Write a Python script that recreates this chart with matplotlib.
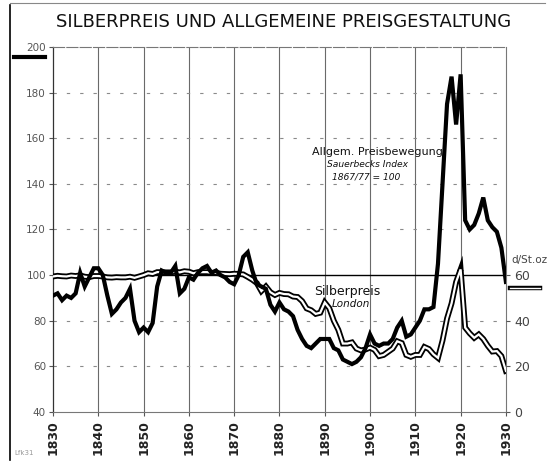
import numpy as np
import matplotlib.pyplot as plt
from matplotlib.lines import Line2D

# Jahre
years = list(range(1830, 1931))

# Allgemeine Preisbewegung (Sauerbecks Index, 1867/77 = 100)
sauerbeck = [
    91, 92, 89, 91, 90, 92, 101, 95, 99, 103,     # 1830-1839
    103, 100, 91, 83, 85, 88, 90, 94, 80, 75,     # 1840-1849
    77, 75, 79, 95, 102, 101, 101, 104, 92, 94,   # 1850-1859
    99, 98, 101, 103, 104, 101, 102, 100, 99, 97, # 1860-1869
    96, 100, 108, 110, 102, 96, 95, 94, 87, 84,   # 1870-1879
    88, 85, 84, 82, 76, 72, 69, 68, 70, 72,       # 1880-1889
    72, 72, 68, 67, 63, 62, 61, 62, 64, 68,       # 1890-1899
    74, 70, 69, 70, 70, 72, 77, 80, 73, 74,       # 1900-1909
    77, 80, 85, 85, 86, 105, 140, 175, 187, 166,  # 1910-1919
    188, 124, 120, 122, 127, 134, 124, 121, 119, 112,  # 1920-1929
    97,                                           # 1930
]

# Silberpreis London (d/St.oz)
silver = [
    59.4, 59.7, 59.5, 59.4, 59.8, 59.6, 59.9, 59.3, 59.1, 59.6,  # 1830-1839
    59.6, 59.4, 59.0, 58.9, 59.1, 59.0, 59.0, 59.3, 58.8, 59.4,  # 1840-1849
    60.0, 60.8, 60.5, 61.3, 61.3, 61.2, 61.2, 61.5, 61.2, 61.7,  # 1850-1859
    61.5, 60.8, 61.3, 61.3, 61.3, 61.0, 61.0, 60.6, 60.5, 60.4,  # 1860-1869
    60.6, 60.5, 60.3, 59.2, 58.0, 56.5, 53.0, 55.0, 52.5, 51.3,  # 1870-1879
    52.2, 51.7, 51.6, 50.6, 50.4, 48.6, 45.4, 44.6, 43.0, 43.5,  # 1880-1889
    48.0, 45.5, 40.0, 36.0, 30.0, 30.0, 30.5, 27.8, 27.0, 27.4,  # 1890-1899
    28.2, 27.2, 24.5, 25.0, 26.4, 27.8, 31.0, 30.2, 25.0, 24.2,  # 1900-1909
    25.0, 25.0, 28.5, 27.6, 25.3, 23.7, 31.3, 41.0, 47.6, 57.0,  # 1910-1919
    62.5, 37.0, 34.5, 32.5, 34.0, 32.0, 29.0, 26.5, 26.7, 24.5,  # 1920-1929
    18.0,                                                        # 1930
]

decades = list(range(1830, 1931, 10))
left_ticks = [40, 60, 80, 100, 120, 140, 160, 180, 200]
right_ticks = [0, 20, 40, 60]

fig = plt.figure(figsize=(5.47, 4.65), dpi=100)
ax = fig.add_axes([0.0969, 0.114, 0.828, 0.785])
ax.set_xlim(1830, 1930)
ax.set_ylim(40, 200)

# Gitter
for d in decades[1:-1]:
    ax.axvline(d, color="#6a6a6a", lw=0.8, zorder=1)
for v in [60, 80, 120, 140, 160, 180]:
    ax.axhline(v, color="#8a8a8a", lw=0.8, ls=(0, (3, 9)), zorder=1)
ax.axhline(100, color="black", lw=1.0, zorder=2)

for s in ["top", "bottom", "right"]:
    ax.spines[s].set_color("#777777")
    ax.spines[s].set_linewidth(0.8)
ax.spines["top"].set_linestyle((0, (10, 2)))
ax.spines["left"].set_color("#333333")
ax.spines["left"].set_linewidth(0.9)

ax.set_xticks(decades)
ax.set_xticklabels([str(d) for d in decades], rotation=90, fontsize=9,
                   fontweight="bold", color="#222222")
ax.set_yticks(left_ticks)
ax.set_yticklabels([str(v) for v in left_ticks])
ax.tick_params(axis="y", labelsize=7.5, labelcolor="#555555", length=3,
               pad=2, color="#555555")
ax.tick_params(axis="x", length=3, pad=3, color="#555555")

# rechte Achse: Silberpreis
ax2 = ax.twinx()
ax2.set_ylim(0, 160)
ax2.set_yticks(right_ticks)
ax2.set_yticklabels([str(v) for v in right_ticks])
ax2.tick_params(axis="y", labelsize=9, labelcolor="#444444", length=3,
                pad=3, color="#555555")
for s in ax2.spines.values():
    s.set_visible(False)

# Doppellinie
ax2.plot(years, silver, color="black", lw=4.2, solid_joinstyle="miter", zorder=3)
ax2.plot(years, silver, color="white", lw=1.6, solid_joinstyle="miter", zorder=4)

# dicke Linie (auf der linken Skala)
ax2.plot(years, sauerbeck, color="black", lw=3.0, transform=ax.transData,
         solid_joinstyle="miter", zorder=5)

# Beschriftungen
ax.text(1887.2, 154, "Allgem. Preisbewegung", fontsize=8, color="#111111",
        va="center", ha="left")
ax.text(1890.5, 148.5, "Sauerbecks Index", fontsize=6.6, style="italic",
        color="#111111", va="center", ha="left")
ax.text(1891.5, 142.8, "1867/77 = 100", fontsize=6.6, style="italic",
        color="#111111", va="center", ha="left")
ax.text(1887.6, 92.6, "Silberpreis", fontsize=9, color="#111111",
        va="center", ha="left")
ax.text(1891.5, 87.4, "London", fontsize=7.5, style="italic",
        color="#111111", va="center", ha="left")

yt2 = ax2.get_yaxis_transform()
ax2.text(1.012, 64.5, "d/St.oz", transform=yt2, fontsize=7.5, color="#444444",
         va="bottom", ha="left")
ax2.add_line(Line2D([1.009, 1.075], [54.5, 54.5], transform=yt2, color="black",
                    lw=3.2, clip_on=False))
ax2.add_line(Line2D([1.009, 1.075], [54.5, 54.5], transform=yt2, color="white",
                    lw=1.0, clip_on=False))

yt1 = ax.get_yaxis_transform()
ax.add_line(Line2D([-0.086, -0.018], [195.5, 195.5], transform=yt1,
                   color="black", lw=3.0, clip_on=False))

# Titel und Rahmen
fig.text(0.518, 0.952, "SILBERPREIS UND ALLGEMEINE PREISGESTALTUNG",
         fontsize=13, ha="center", va="center", color="#111111")
fig.add_artist(Line2D([0.019, 0.019], [0.01, 0.99], color="black", lw=1.2))
fig.add_artist(Line2D([0.019, 0.997], [0.994, 0.994], color="#888888", lw=0.8))
fig.text(0.026, 0.022, "Lfk31", fontsize=5, color="#999999")

fig.savefig("out.png", dpi=100)
